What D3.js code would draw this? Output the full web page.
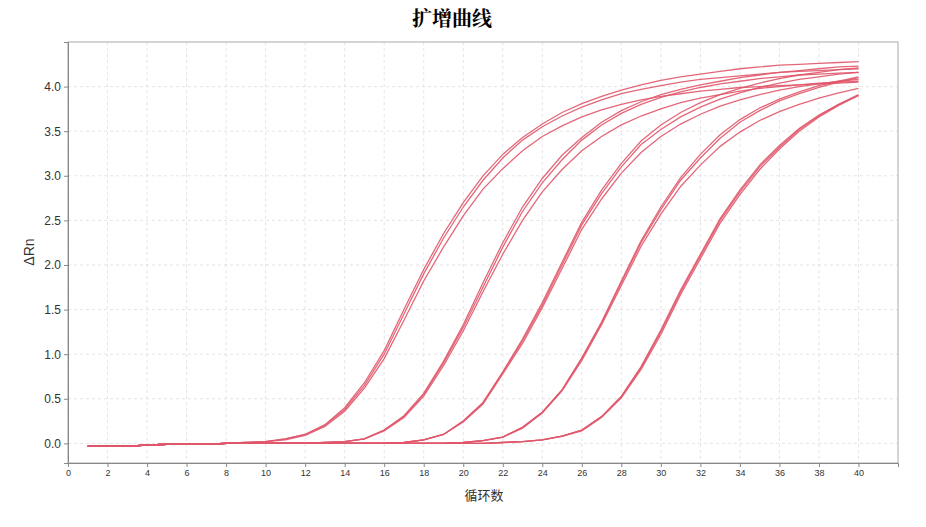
<!DOCTYPE html>
<html><head><meta charset="utf-8">
<script src="https://cdn.jsdelivr.net/npm/d3@7"></script>
<style>body{margin:0;background:#fff}</style></head>
<body><svg id="c" width="926" height="527"></svg>
<script>
const cycles = d3.range(1, 41);
const base = [-0.03,-0.03,-0.03,-0.02,-0.01,-0.01,-0.01,0.0];
const g1a = base.concat([0.01,0.02,0.05,0.1,0.21,0.4,0.68,1.04,1.5,1.95,2.35,2.7,3.0,3.24,3.43,3.58,3.71,3.81,3.89,3.96,4.02,4.07,4.11,4.14,4.17,4.2,4.22,4.24,4.25,4.26,4.27,4.28]);
const g1b = base.concat([0.01,0.02,0.05,0.1,0.2,0.38,0.65,1.0,1.45,1.9,2.3,2.65,2.95,3.2,3.4,3.55,3.67,3.77,3.85,3.92,3.97,4.01,4.05,4.08,4.1,4.12,4.14,4.16,4.17,4.18,4.19,4.2]);
const g1c = base.concat([0.01,0.02,0.04,0.09,0.19,0.36,0.62,0.95,1.38,1.82,2.2,2.55,2.85,3.08,3.28,3.44,3.56,3.66,3.74,3.8,3.85,3.89,3.92,3.95,3.97,3.99,4.0,4.01,4.02,4.03,4.04,4.05]);
const g2a = base.concat([0.0,0.0,0.0,0.0,0.01,0.02,0.05,0.15,0.31,0.56,0.92,1.33,1.8,2.25,2.65,2.97,3.23,3.43,3.6,3.73,3.83,3.91,3.97,4.02,4.06,4.1,4.13,4.16,4.18,4.2,4.22,4.23]);
const g2b = base.concat([0.0,0.0,0.0,0.0,0.01,0.02,0.05,0.15,0.3,0.55,0.9,1.3,1.75,2.2,2.6,2.92,3.18,3.4,3.57,3.7,3.8,3.88,3.94,3.99,4.03,4.06,4.09,4.11,4.13,4.14,4.15,4.16]);
const g2c = base.concat([0.0,0.0,0.0,0.0,0.01,0.02,0.05,0.14,0.29,0.53,0.87,1.26,1.7,2.12,2.5,2.82,3.07,3.28,3.44,3.57,3.67,3.75,3.82,3.87,3.91,3.95,3.98,4.0,4.02,4.04,4.05,4.06]);
const g3a = base.concat([0.0,0.0,0.0,0.0,0.0,0.0,0.0,0.0,0.01,0.04,0.1,0.25,0.46,0.8,1.17,1.58,2.03,2.48,2.84,3.14,3.39,3.57,3.71,3.82,3.91,3.98,4.04,4.09,4.13,4.16,4.19,4.21]);
const g3b = base.concat([0.0,0.0,0.0,0.0,0.0,0.0,0.0,0.0,0.01,0.04,0.1,0.25,0.45,0.8,1.15,1.55,2.0,2.45,2.8,3.1,3.35,3.52,3.66,3.77,3.86,3.93,3.99,4.04,4.08,4.11,4.14,4.16]);
const g3c = base.concat([0.0,0.0,0.0,0.0,0.0,0.0,0.0,0.0,0.01,0.04,0.1,0.24,0.44,0.78,1.12,1.52,1.96,2.4,2.74,3.03,3.26,3.44,3.58,3.69,3.78,3.85,3.91,3.96,4.0,4.03,4.06,4.08]);
const g4a = base.concat([0.0,0.0,0.0,0.0,0.0,0.0,0.0,0.0,0.0,0.0,0.0,0.01,0.03,0.07,0.18,0.35,0.6,0.96,1.36,1.82,2.27,2.65,2.98,3.24,3.46,3.63,3.76,3.86,3.94,4.01,4.06,4.11]);
const g4b = base.concat([0.0,0.0,0.0,0.0,0.0,0.0,0.0,0.0,0.0,0.0,0.0,0.01,0.03,0.07,0.18,0.35,0.6,0.95,1.35,1.8,2.25,2.62,2.95,3.2,3.42,3.6,3.73,3.84,3.92,3.99,4.05,4.1]);
const g4c = base.concat([0.0,0.0,0.0,0.0,0.0,0.0,0.0,0.0,0.0,0.0,0.0,0.01,0.03,0.07,0.17,0.34,0.59,0.93,1.33,1.77,2.21,2.57,2.88,3.12,3.33,3.49,3.62,3.72,3.8,3.87,3.93,3.98]);
const g5a = base.concat([0.0,0.0,0.0,0.0,0.0,0.0,0.0,0.0,0.0,0.0,0.0,0.0,0.0,0.01,0.02,0.04,0.08,0.15,0.3,0.53,0.86,1.27,1.72,2.12,2.52,2.84,3.12,3.34,3.53,3.68,3.8,3.91]);
const g5b = base.concat([0.0,0.0,0.0,0.0,0.0,0.0,0.0,0.0,0.0,0.0,0.0,0.0,0.0,0.01,0.02,0.04,0.08,0.15,0.3,0.52,0.85,1.25,1.7,2.1,2.5,2.82,3.1,3.32,3.52,3.67,3.8,3.9]);
const g5c = base.concat([0.0,0.0,0.0,0.0,0.0,0.0,0.0,0.0,0.0,0.0,0.0,0.0,0.0,0.01,0.02,0.04,0.08,0.14,0.29,0.51,0.83,1.22,1.67,2.07,2.47,2.79,3.07,3.3,3.5,3.66,3.79,3.9]);
const series = [g1a,g1b,g1c,g2a,g2b,g2c,g3a,g3b,g3c,g4a,g4b,g4c,g5a,g5b,g5c];
const xTicks = d3.range(0, 41, 2);
const yTicks = [0,0.5,1,1.5,2,2.5,3,3.5,4];

const svg = d3.select("#c");
const L=68,R=898,T=42,B=463;
const x = d3.scaleLinear().domain([0,42]).range([L,R]);
const y = d3.scaleLinear().domain([-0.22,4.5]).range([B,T]);
const grid = svg.append("g").attr("stroke","#ddd").attr("stroke-dasharray","3,3").attr("stroke-width",0.8);
xTicks.forEach(t=>grid.append("line").attr("x1",x(t)).attr("x2",x(t)).attr("y1",T).attr("y2",B));
yTicks.forEach(t=>grid.append("line").attr("x1",L).attr("x2",R).attr("y1",y(t)).attr("y2",y(t)));
svg.append("rect").attr("x",L).attr("y",T).attr("width",R-L).attr("height",B-T).attr("fill","none").attr("stroke","#aaa");
const xa = svg.append("g").attr("transform",`translate(0,${B})`).call(d3.axisBottom(x).tickValues(xTicks).tickSize(4).tickFormat(d3.format("d")));
const ya = svg.append("g").attr("transform",`translate(${L},0)`).call(d3.axisLeft(y).tickValues(yTicks).tickSize(4).tickFormat(d3.format(".1f")));
[xa,ya].forEach(a=>{a.select(".domain").attr("stroke","#888");a.selectAll("line").attr("stroke","#888");a.selectAll("text").attr("font-family","Liberation Sans, Arial").attr("fill","#333");});
xa.selectAll("text").attr("font-size",9);
ya.selectAll("text").attr("font-size",12);
const line = d3.line().x((d,i)=>x(cycles[i])).y(d=>y(d)).curve(d3.curveLinear);
svg.append("g").selectAll("path").data(series).join("path").attr("d",line).attr("fill","none").attr("stroke","#e0566a").attr("stroke-width",1.3).attr("stroke-opacity",0.9);
svg.append("text").attr("x",452).attr("y",26).attr("text-anchor","middle").attr("font-size",20).attr("font-weight","bold").attr("font-family","Noto Serif CJK SC, Noto Sans CJK SC").text("扩增曲线");
svg.append("text").attr("x",484).attr("y",500).attr("text-anchor","middle").attr("font-size",13).attr("fill","#333").attr("font-family","Noto Sans CJK SC").text("循环数");
svg.append("text").attr("transform","translate(34,252) rotate(-90)").attr("text-anchor","middle").attr("font-size",14).attr("fill","#333").attr("font-family","Liberation Sans, Arial").text("ΔRn");
</script></body></html>
